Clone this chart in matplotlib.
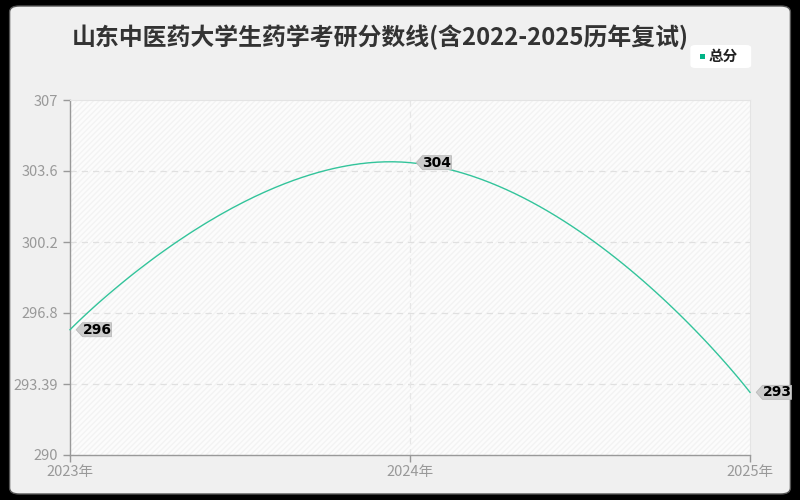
import numpy as np
import matplotlib.pyplot as plt
from matplotlib.patches import FancyBboxPatch, Rectangle
from matplotlib.path import Path

plt.rcParams['font.family'] = ['Noto Sans CJK SC', 'DejaVu Sans']

# data
years = ['2023年', '2024年', '2025年']
scores = [296, 304, 293]
yticks = [290, 293.39, 296.8, 300.2, 303.6, 307]
title = '山东中医药大学生药学考研分数线(含2022-2025历年复试)'
series_name = '总分'
line_color = '#33c49b'

fig = plt.figure(figsize=(8, 5), dpi=100, facecolor='black')
# rounded light panel
fig.patches.append(FancyBboxPatch((0.012, 0.012), 0.976, 0.976,
                                  boxstyle='round,pad=0,rounding_size=0.012',
                                  transform=fig.transFigure, facecolor='#f0f0f0',
                                  edgecolor='#555555', linewidth=1, zorder=-10))

ax = fig.add_axes([0.0875, 0.09, 0.85, 0.71])
ax.set_zorder(1)
ax.set_facecolor('#fcfcfc')
x = np.arange(len(years))
ax.set_xlim(0, len(years) - 1)
ax.set_ylim(yticks[0], yticks[-1])
ax.add_patch(Rectangle((0, 0), 1, 1, transform=ax.transAxes, facecolor='none',
                       edgecolor='#f3f3f3', hatch='//////', linewidth=0, zorder=0))

# grid
for yt in yticks[1:-1]:
    ax.axhline(yt, color='#e0e0e0', lw=0.9, ls=(0, (5, 4)), zorder=1)
for xi in x[1:-1]:
    ax.axvline(xi, color='#e6e6e6', lw=0.9, ls=(0, (5, 4)), zorder=1)

# echarts-like smooth curve in display space
pts = ax.transData.transform(np.column_stack([x, scores]))
smooth = 0.5
cps = []
for i in range(len(pts)):
    if i == 0 or i == len(pts) - 1:
        cps.append((pts[i], pts[i]))
        continue
    v = pts[i + 1] - pts[i - 1]
    d0 = np.linalg.norm(pts[i] - pts[i - 1])
    d1 = np.linalg.norm(pts[i + 1] - pts[i])
    r = d0 / (d0 + d1)
    cps.append((pts[i] - v * smooth * r, pts[i] + v * smooth * (1 - r)))
curve = []
t = np.linspace(0, 1, 60)[:, None]
for i in range(len(pts) - 1):
    p0, p1, p2, p3 = pts[i], cps[i][1], cps[i + 1][0], pts[i + 1]
    seg = (1 - t) ** 3 * p0 + 3 * (1 - t) ** 2 * t * p1 + 3 * (1 - t) * t ** 2 * p2 + t ** 3 * p3
    curve.append(seg)
curve = ax.transData.inverted().transform(np.vstack(curve))
ax.plot(curve[:, 0], curve[:, 1], color=line_color, lw=1, zorder=3, clip_on=False)


def tag_box(x0, y0, width, height, mutation_size):
    a = height * 0.45
    verts = [(x0, y0), (x0 + width, y0), (x0 + width, y0 + height), (x0, y0 + height),
             (x0 - a, y0 + height / 2), (x0, y0)]
    return Path(verts, [Path.MOVETO] + [Path.LINETO] * 4 + [Path.CLOSEPOLY])


for xi, s in zip(x, scores):
    ax.annotate(str(s), (xi, s), xytext=(9, 0), textcoords='offset points',
                ha='left', va='center', fontsize=10, fontweight='bold', color='black',
                family=['DejaVu Sans'],
                bbox=dict(boxstyle=tag_box, facecolor='#cccccc', edgecolor='#bbbbbb', lw=0.6),
                zorder=5, annotation_clip=False)

# axes styling
for side in ['top', 'right']:
    ax.spines[side].set_color('#e4e4e4')
    ax.spines[side].set_linewidth(0.8)
for side in ['left', 'bottom']:
    ax.spines[side].set_color('#999999')
    ax.spines[side].set_linewidth(1)
ax.set_xticks(x)
ax.set_xticklabels(years)
ax.set_yticks(yticks)
ax.set_yticklabels([f'{v:g}' for v in yticks])
ax.tick_params(axis='both', colors='#999999', labelcolor='#999999', labelsize=10.5,
               length=5, width=1)
ax.tick_params(axis='x', pad=2)

fig.text(0.09, 0.926, title, fontsize=17.2, fontweight='bold', color='#333333',
         ha='left', va='center')

# legend
fig.patches.append(FancyBboxPatch((0.863, 0.864), 0.076, 0.046,
                                  boxstyle='round,pad=0,rounding_size=0.006',
                                  transform=fig.transFigure, facecolor='white',
                                  edgecolor='none', zorder=2))
fig.patches.append(Rectangle((0.875, 0.882), 0.0065, 0.0105, transform=fig.transFigure,
                             facecolor='#00b386', edgecolor='none', zorder=3))
fig.text(0.886, 0.888, series_name, fontsize=10.5, fontweight='bold', color='#222222',
         ha='left', va='center', zorder=4)

fig.savefig('out.png', dpi=100, facecolor=fig.get_facecolor())
